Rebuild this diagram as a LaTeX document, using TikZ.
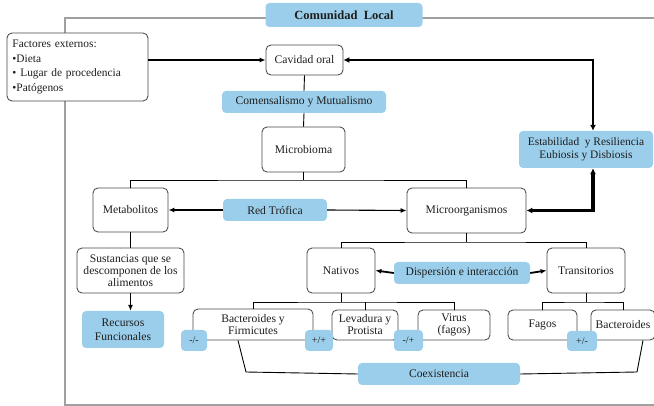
\documentclass[tikz,border=0pt]{standalone}
\usepackage{fontspec}
\setmainfont{Liberation Serif}
\usetikzlibrary{arrows.meta,calc}
\definecolor{skyb}{RGB}{155,206,234}
\definecolor{frameg}{RGB}{160,160,160}
\definecolor{txt}{RGB}{30,30,30}
\tikzset{
  box/.style={draw=black!72, line width=0.85pt, rounded corners=5pt, fill=white,
    align=center, inner sep=2pt, text=txt, font=\fontsize{11.6}{12.5}\selectfont},
  bluebox/.style={fill=skyb, draw=none, rounded corners=4pt, align=center,
    inner sep=2pt, text=txt, font=\fontsize{11.6}{12.5}\selectfont},
  smallblue/.style={bluebox, font=\fontsize{10}{11}\selectfont},
  conn/.style={draw=black, line width=0.9pt},
  arr/.style={-{Latex[length=6pt,width=5pt]}},
  darr/.style={{Latex[length=6pt,width=6pt]}-{Latex[length=6pt,width=6pt]}},
}
\begin{document}
\begin{tikzpicture}[x=1pt,y=-1pt]
\useasboundingbox (0,0) rectangle (654,406);
% frame
\draw[frameg, line width=1.3pt] (65,18) rectangle (662,405);

% nodes
\node[bluebox, minimum width=157, minimum height=24, font=\fontsize{12.5}{14}\selectfont\bfseries] (comunidad) at (344,15) {Comunidad\ \ Local};
\node[box, minimum width=141, minimum height=68, align=left, text width=130, font=\fontsize{11.4}{14.5}\selectfont] (factores) at (77.5,67) {Factores externos:\\\textbullet Dieta\\\textbullet\ Lugar de procedencia\\\textbullet Patógenos};
\node[box, minimum width=77, minimum height=30] (cavidad) at (304.5,60) {Cavidad oral};
\node[bluebox, minimum width=164, minimum height=22] (comensal) at (304,102) {Comensalismo y Mutualismo};
\node[box, minimum width=83, minimum height=45] (microbioma) at (303.5,149.5) {Microbioma};
\node[box, minimum width=75, minimum height=44] (metabolitos) at (130.5,210) {Metabolitos};
\node[bluebox, minimum width=104, minimum height=22] (redtrofica) at (275,210) {Red Trófica};
\node[box, minimum width=119, minimum height=45] (microorg) at (466.5,210.5) {Microorganismos};
\node[bluebox, minimum width=134, minimum height=37, font=\fontsize{11.4}{13}\selectfont] (estab) at (586,149.5) {Estabilidad\ \ y Resiliencia\\Eubiosis y Disbiosis};
\node[box, minimum width=107, minimum height=45, font=\fontsize{11.6}{12}\selectfont] (sustancias) at (130.5,270.5) {Sustancias que se\\descomponen de los\\alimentos};
\node[bluebox, minimum width=82, minimum height=37, font=\fontsize{11.6}{14}\selectfont] (recursos) at (123,329.5) {Recursos\\Funcionales};
\node[box, minimum width=68, minimum height=45] (nativos) at (341,270.5) {Nativos};
\node[bluebox, minimum width=136, minimum height=22] (dispersion) at (462,273) {Dispersión e interacción};
\node[box, minimum width=78, minimum height=45] (transitorios) at (586,270.5) {Transitorios};
\node[box, minimum width=120, minimum height=31, font=\fontsize{11.6}{12}\selectfont] (bactfirm) at (253,324.5) {Bacteroides y\\Firmicutes};
\node[box, minimum width=66, minimum height=30, font=\fontsize{11.6}{12}\selectfont] (levadura) at (365,325) {Levadura y\\Protista};
\node[box, minimum width=72, minimum height=30, font=\fontsize{11.6}{12}\selectfont] (virus) at (454,325) {Virus\\(fagos)};
\node[box, minimum width=69, minimum height=30] (fagos) at (542.5,325) {Fagos};
\node[box, minimum width=64, minimum height=30] (bacteroides) at (623,325) {Bacteroides};
\node[smallblue, minimum width=26, minimum height=21] (mm) at (194,340.5) {-/-};
\node[smallblue, minimum width=28, minimum height=21] (pp) at (319,340.5) {+/+};
\node[smallblue, minimum width=29, minimum height=21] (mp) at (408.5,340.5) {-/+};
\node[smallblue, minimum width=30, minimum height=20] (pm) at (582,341) {+/-};
\node[bluebox, minimum width=162, minimum height=22] (coexist) at (439,374) {Coexistencia};

% junction coordinates
\coordinate (j1) at (303.5,180);
\coordinate (j2) at (466.5,242);
\coordinate (j3) at (341,302);
\coordinate (j4) at (586,302);

% tree lines
\draw[conn] (cavidad.south) -- (comensal.north);
\draw[conn] (comensal.south) -- (microbioma.north);
\draw[conn] (microbioma.south) -- (j1);
\draw[conn] (metabolitos.north) |- (j1) -| (microorg.north);
\draw[conn] (metabolitos.south) -- (sustancias.north);
\draw[conn] (microorg.south) -- (j2);
\draw[conn] (nativos.north) |- (j2) -| (transitorios.north);
\draw[conn] (nativos.south) -- (j3);
\draw[conn] (bactfirm.north) |- (j3) -| (virus.north);
\draw[conn] (levadura.north) -- (levadura.north |- j3);
\draw[conn] (transitorios.south) -- (j4);
\draw[conn] (fagos.north) |- (j4) -| (bacteroides.north);

% coexistence bracket
\draw[conn] ($(bactfirm.south)+(-15,0)$) -- (246,372) -- (coexist.west);
\draw[conn] (coexist.east) -- (637,372) -- ($(bacteroides.south)+(20,0)$);

% arrows
\draw[arr, line width=1.3pt] (sustancias.south) -- (sustancias.south |- recursos.north);
\draw[arr, line width=1.8pt] (factores.east |- cavidad.west) -- (cavidad.west);
\draw[darr, line width=2.4pt] (cavidad.east) -| ($(estab.north)+(7,0)$);
\draw[darr, line width=3.4pt] (microorg.east) -| ($(estab.south)+(7,0)$);
\draw[arr, line width=1.6pt] (redtrofica.west) -- (metabolitos.east);
\draw[arr, line width=1.1pt] (redtrofica.east) -- (microorg.west);
\draw[arr, line width=1.8pt] (dispersion.west) -- (nativos.east);
\draw[arr, line width=1.8pt] (dispersion.east) -- (transitorios.west);
\end{tikzpicture}
\end{document}
